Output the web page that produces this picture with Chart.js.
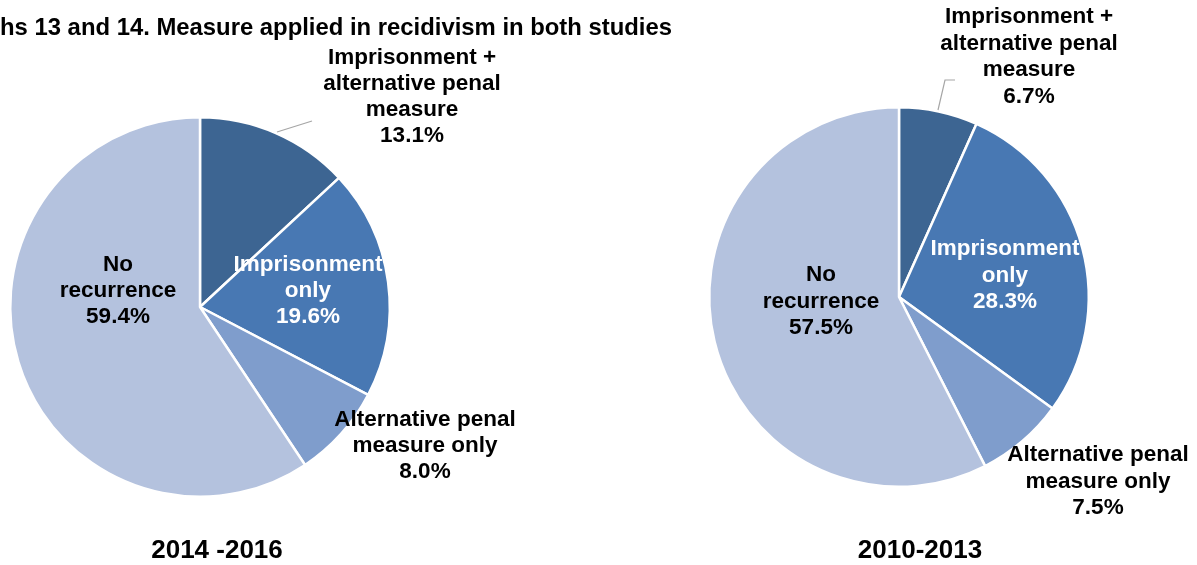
<!DOCTYPE html>
<html>
<head>
<meta charset="utf-8">
<script src="https://cdn.jsdelivr.net/npm/chart.js@4/dist/chart.umd.min.js"></script>
<style>
  body { margin: 0; background: #fff; }
  #wrap { position: relative; width: 1197px; height: 565px; overflow: hidden; }
  #wrap canvas { position: absolute; left: 0; top: 0; }
</style>
</head>
<body>
<div id="wrap">
  <canvas id="pieNew" width="1197" height="565"></canvas>
  <canvas id="pieOld" width="1197" height="565"></canvas>
</div>
<script>
// measure applied on recidivism, two study periods
const categories = ['Imprisonment + alternative penal measure', 'Imprisonment only', 'Alternative penal measure only', 'No recurrence'];
const labelLines = [['Imprisonment +', 'alternative penal', 'measure'], ['Imprisonment', 'only'], ['Alternative penal', 'measure only'], ['No', 'recurrence']];
const values2014 = [13.1, 19.6, 8.0, 59.4];
const values2010 = [6.7, 28.3, 7.5, 57.5];
const periods = ['2014 -2016', '2010-2013'];
const titleText = 'hs 13 and 14. Measure applied in recidivism in both studies';

const sliceColors = ['#3d6592', '#4878b3', '#7f9dcc', '#b4c2de'];
const textColors = ['#000', '#fff', '#000', '#000'];
const FONT = "'Liberation Sans', Arial, sans-serif";

// text placement relative to the pie centre
const layoutNew = {
    spots: [[212, -249], [108, -42], [225, 113], [-82, -42]],
    leader: [[77, -175], [112, -186]],
    period: [17, 244],
    lineHeight: 26,
    title: true
};
const layoutOld = {
    spots: [[130, -280], [106, -48], [199, 158], [-78, -22]],
    leader: [[39, -187], [46, -217], [56, -217]],
    period: [21, 254],
    lineHeight: 26.5,
    title: false
};

function labelPlugin(values, period, lay) {
    return {
        id: 'pieLabels',
        afterDraw(chart) {
            const ctx = chart.ctx;
            const arc = chart.getDatasetMeta(0).data[0];
            const cx = arc.x, cy = arc.y;
            ctx.save();

            // leader line to the small slice label
            ctx.strokeStyle = '#a6a6a6';
            ctx.lineWidth = 1.2;
            ctx.beginPath();
            lay.leader.forEach((p, i) => {
                if (i === 0) ctx.moveTo(cx + p[0], cy + p[1]);
                else ctx.lineTo(cx + p[0], cy + p[1]);
            });
            ctx.stroke();

            ctx.textAlign = 'center';
            ctx.textBaseline = 'middle';
            ctx.font = 'bold 22.5px ' + FONT;
            values.forEach((v, i) => {
                const lines = labelLines[i].concat(v.toFixed(1) + '%');
                const [dx, dy] = lay.spots[i];
                ctx.fillStyle = textColors[i];
                lines.forEach((t, k) => ctx.fillText(t, cx + dx, cy + dy + k * lay.lineHeight));
            });

            ctx.fillStyle = '#000';
            ctx.font = 'bold 26px ' + FONT;
            ctx.fillText(period, cx + lay.period[0], cy + lay.period[1]);

            // heading, squeezed to a narrow face
            if (lay.title) {
                ctx.font = 'bold 24px ' + FONT;
                ctx.textAlign = 'left';
                const w = ctx.measureText(titleText).width;
                ctx.translate(0, 28);
                ctx.scale(672 / w, 1);
                ctx.fillText(titleText, 0, 0);
            }
            ctx.restore();
        }
    };
}

function makePie(id, values, period, lay, pad) {
    new Chart(document.getElementById(id), {
        type: 'pie',
        data: {
            labels: categories,
            datasets: [{
                data: values,
                backgroundColor: sliceColors,
                borderColor: '#ffffff',
                borderWidth: 2.5
            }]
        },
        options: {
            responsive: false,
            animation: false,
            devicePixelRatio: 1,
            layout: { padding: pad },
            plugins: {
                legend: { display: false },
                tooltip: { enabled: false }
            }
        },
        plugins: [labelPlugin(values, period, lay)]
    });
}

makePie('pieNew', values2014, periods[0], layoutNew, { left: 9, top: 116, right: 806, bottom: 67 });
makePie('pieOld', values2010, periods[1], layoutOld, { left: 708, top: 106, right: 107, bottom: 77 });
</script>
</body>
</html>
